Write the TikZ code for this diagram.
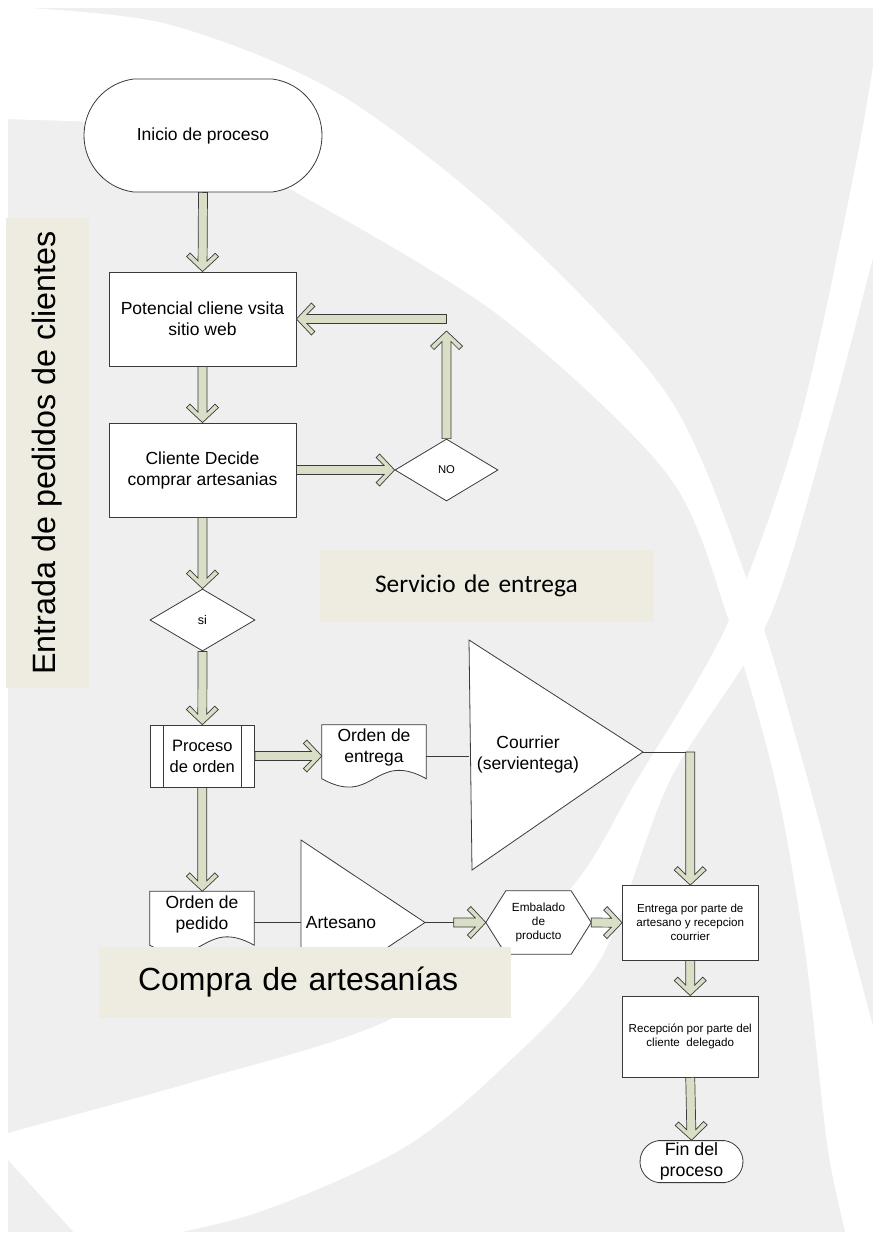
\documentclass[tikz,border=0pt]{standalone}
\usepackage{fontspec}
\setmainfont{Liberation Sans}
\newfontfamily\calibri{Carlito}
\usetikzlibrary{shapes.geometric,shapes.misc,calc}

\definecolor{fondo}{HTML}{EFEFEF}
\definecolor{beige}{HTML}{EEECE1}
\definecolor{verdeflecha}{HTML}{D8DFC6}
\definecolor{linea}{HTML}{3A3A3A}

\pgfdeclarelayer{capafondo}
\pgfdeclarelayer{capaformas}
\pgfsetlayers{capafondo,capaformas,main}

\tikzset{
  pics/flecha/.style={code={
    \filldraw[fill=verdeflecha, draw=linea, line width=0.7pt, line join=miter]
      (0,-4.5) -- ({#1-10.5},-4.5) -- ({#1-18.5},-12.5) -- ({#1-15},-16) -- (#1,0)
      -- ({#1-15},16) -- ({#1-18.5},12.5) -- ({#1-10.5},4.5) -- (0,4.5) -- cycle;}}
}
% block arrow from #1 to #2
\newcommand\flecha[2]{%
  \path let \p1=($(#2)-(#1)$), \n1={veclen(\x1,\y1)}, \n2={atan2(\y1,\x1)} in
    (#1) pic[rotate=\n2] {flecha={\n1}};}

\begin{document}
\begin{tikzpicture}[x=1pt, y=-1pt,
  caja/.style={rectangle, draw=linea, fill=white, line width=0.8pt, inner sep=0pt,
    align=center, font=\fontsize{17.5}{21}\selectfont},
  cajachica/.style={caja, font=\fontsize{11.6}{14}\selectfont},
  pildora/.style={rounded rectangle, rounded rectangle arc length=165, draw=linea,
    fill=white, line width=0.8pt, inner sep=0pt, align=center,
    font=\fontsize{17.5}{21}\selectfont},
  rombo/.style={diamond, draw=linea, fill=white, line width=0.8pt, inner sep=0pt},
  proceso/.style={caja, font=\fontsize{16.5}{21}\selectfont, path picture={
    \draw[draw=linea, line width=0.8pt]
      ([xshift=13pt]path picture bounding box.north west) -- ([xshift=13pt]path picture bounding box.south west)
      ([xshift=-13pt]path picture bounding box.north east) -- ([xshift=-13pt]path picture bounding box.south east);}},
  texto/.style={inner sep=0pt, align=center, font=\fontsize{17.5}{21}\selectfont},
  forma/.style={draw=linea, fill=white, line width=0.8pt},
  conector/.style={draw=linea, line width=0.8pt},
  etiqueta/.style={fill=beige, inner sep=0pt}
]
\useasboundingbox (0,0) rectangle (873,1242);

% page background
\begin{pgfonlayer}{capafondo}
  \fill[fondo] (8,8) rectangle (873,1232);
  \fill[white] plot[smooth] coordinates {(-10,2) (8,6) (167,24) (334,91) (501,218) (668,396)
      (752,594) (805,770) (850,940) (890,1090)}
    -- (890,1250)
    -- plot[smooth] coordinates {(850,1250) (828,1150) (805,950) (775,780) (729,621) (668,475)
      (501,317) (306,198) (167,131) (8,119) (-10,119)} -- cycle;
  \fill[white] plot[smooth] coordinates {(-10,1140) (8,1133) (200,1080) (393,1018) (560,900)
      (637,780) (729,621) (800,420) (857,158) (880,20)}
    -- (890,20)
    -- plot[smooth] coordinates {(880,230) (830,420) (768,621) (670,780) (600,960) (500,1070)
      (400,1150) (250,1215) (90,1250)} -- cycle;
\end{pgfonlayer}

% lane labels
\node[etiqueta, rotate=90, minimum width=470pt, minimum height=83pt,
  font=\fontsize{32.3}{38}\selectfont] (entrada) at (47.5,453) {Entrada de pedidos de clientes};
\node[etiqueta, minimum width=334pt, minimum height=72pt, text width=224pt, align=left,
  font=\calibri\fontsize{25.4}{30}\selectfont] (servicio) at (487,586) {Servicio de entrega};

% nodes
\node[pildora, minimum width=238pt, minimum height=113pt] (inicio) at (203,135.5) {Inicio de proceso};
\node[caja, minimum width=187pt, minimum height=94pt] (pot) at (202.5,319) {Potencial cliene vsita\\sitio web};
\node[caja, minimum width=187pt, minimum height=94pt] (decide) at (202.5,470) {Cliente Decide\\comprar artesanias};
\node[rombo, minimum width=103pt, minimum height=62pt, font=\fontsize{11.3}{13}\selectfont] (no) at (446.5,470) {NO};
\node[rombo, minimum width=105pt, minimum height=62pt, font=\fontsize{12.5}{14}\selectfont] (si) at (202.5,620) {si};
\node[proceso, minimum width=104.5pt, minimum height=62pt] (orden) at (202.3,756) {Proceso\\de orden};
\node[texto, minimum width=104pt, minimum height=45pt] (entrega) at (374,747.5) {Orden de\\entrega};
\node[texto] (courrier) at (528,754) {Courrier\\(servientega)};
\node[texto, minimum width=104pt, minimum height=45pt] (pedido) at (202,914) {Orden de\\pedido};
\node[texto] (artesano) at (341,922.5) {Artesano};
\node[texto, minimum width=105pt, minimum height=63pt, font=\fontsize{11.8}{14}\selectfont] (embalado) at (538.5,922.5) {Embalado\\de\\producto};
\node[cajachica, minimum width=135.5pt, minimum height=74.5pt] (entart) at (690.25,922.75) {Entrega por parte de\\artesano y recepcion\\courrier};
\node[cajachica, minimum width=135.5pt, minimum height=81pt] (recepcion) at (690.25,1036.5) {Recepción por parte del\\cliente\ \ delegado};
\node[pildora, minimum width=103pt, minimum height=42pt, font=\fontsize{17.8}{21}\selectfont] (fin) at (691.5,1161.6) {Fin del\\proceso};

\coordinate (cou1) at (469,640);
\coordinate (cou2) at (472,870);
\coordinate (cou3) at (643,752);
\coordinate (art1) at (301,840);
\coordinate (art2) at (301,1005);
\coordinate (art3) at (425,922.5);
\coordinate (vuelta1) at (446.5,331);
\coordinate (vuelta2) at (446.5,319);
\coordinate (codo) at (cou3 -| entart.north);
\coordinate (enlace) at ($(embalado.west)+(-32,0)$);

% shapes drawn as outlines
\begin{pgfonlayer}{capaformas}
  \path[forma] (entrega.north west) -- ([yshift=-8.5pt]entrega.south west)
    .. controls +(52,29) and +(-52,-29) .. ([yshift=-8.5pt]entrega.south east)
    -- (entrega.north east) -- cycle;
  \path[forma] (pedido.north west) -- ([yshift=-8.5pt]pedido.south west)
    .. controls +(52,29) and +(-52,-29) .. ([yshift=-8.5pt]pedido.south east)
    -- (pedido.north east) -- cycle;
  \path[forma] (cou1) -- (cou3) -- (cou2) -- cycle;
  \path[forma] (art1) -- (art3) -- (art2) -- cycle;
  \path[forma] (embalado.west) -- ([xshift=20pt]embalado.north west) -- ([xshift=-20pt]embalado.north east)
    -- (embalado.east) -- ([xshift=-20pt]embalado.south east) -- ([xshift=20pt]embalado.south west) -- cycle;
\end{pgfonlayer}

% connectors
\draw[conector] (entrega.east |- orden.east) -- (cou1 |- orden.east);
\draw[conector] (pedido.east |- art3) -- (art1 |- art3);
\draw[conector] (art3) -- (enlace);
\draw[conector] (cou3) -- ([xshift=4.5pt]codo);
\flecha{inicio.south}{pot.north}
\flecha{pot.south}{decide.north}
\flecha{decide.east}{no.west}
\flecha{no.north}{vuelta1}
\flecha{vuelta2}{pot.east}
\flecha{decide.south}{si.north}
\flecha{si.south}{orden.north}
\flecha{orden.east}{orden.east -| entrega.west}
\flecha{orden.south}{orden.south |- pedido.north}
\flecha{enlace}{embalado.west}
\flecha{embalado.east}{entart.west}
\flecha{codo}{entart.north}
\flecha{entart.south}{recepcion.north}
\flecha{recepcion.south}{fin.north}

\node[etiqueta, minimum width=411.6pt, minimum height=71pt, text width=334pt, align=left,
  font=\fontsize{32}{38}\selectfont] (compra) at (305,982.5) {Compra de artesanías};
\end{tikzpicture}
\end{document}
